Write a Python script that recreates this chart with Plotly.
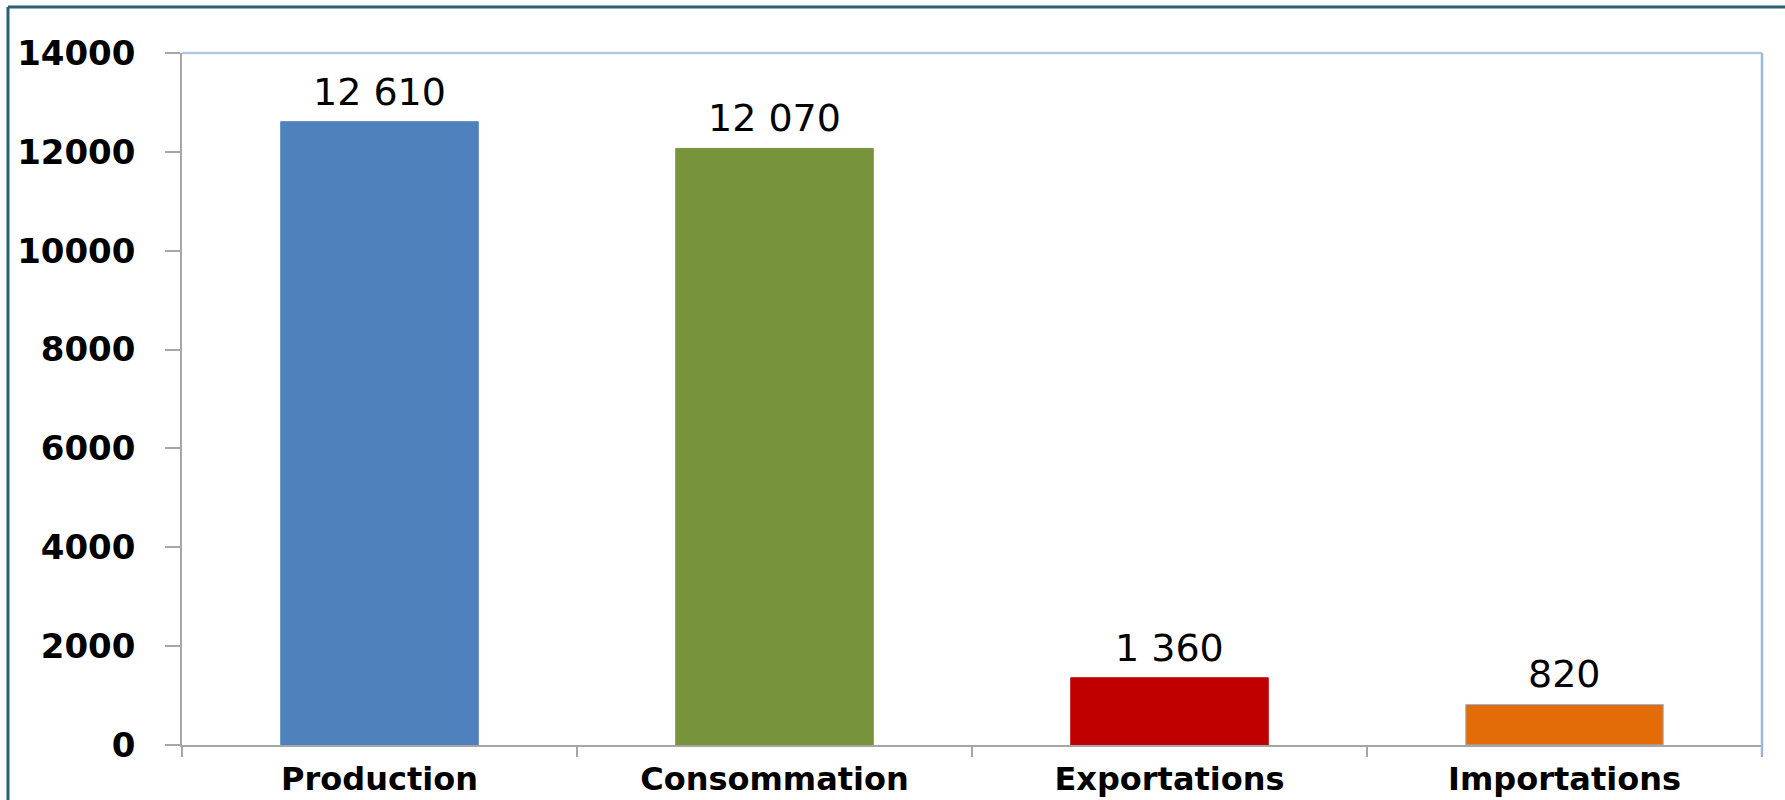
import plotly.graph_objects as go

categories = ["Production", "Consommation", "Exportations", "Importations"]
values = [12610, 12070, 1360, 820]
value_labels = ["12 610", "12 070", "1 360", "820"]
bar_colors = ["#4f81bd", "#77933c", "#c00000", "#e36c09"]
bar_line_colors = ["#4f81bd", "#77933c", "#c00000", "#8eb4e3"]
y_ticks = [0, 2000, 4000, 6000, 8000, 10000, 12000, 14000]
y_tick_labels = ["0", "2000", "4000", "6000", "8000", "10000", "12000", "14000"]

W, H = 1785, 800
ML, MR, MT, MB = 182, 23, 53, 55
pw, ph = W - ML - MR, H - MT - MB


def px_x(p):
    return (p - ML) / pw


def px_y(p):
    return (H - MB - p) / ph


fig = go.Figure()
fig.add_trace(go.Bar(
    x=categories, y=values, width=0.5,
    marker=dict(color=bar_colors, line=dict(color=bar_line_colors, width=1)),
    hoverinfo="x+y",
))

for c, v, t in zip(categories, values, value_labels):
    fig.add_annotation(x=c, y=v, text=t, showarrow=False, yanchor="bottom",
                       yshift=6, font=dict(family="DejaVu Sans", size=38, color="#000000"))

axis_gray = "#a6a6a6"
fig.update_layout(
    width=W, height=H, autosize=False,
    margin=dict(l=ML, r=MR, t=MT, b=MB, pad=0, autoexpand=False),
    paper_bgcolor="white", plot_bgcolor="white",
    showlegend=False, bargap=0.5,
    xaxis=dict(
        automargin=False,
        showgrid=False, zeroline=False, showline=True, linecolor=axis_gray, linewidth=1.5,
        ticks="outside", tickson="boundaries", ticklen=10, tickcolor=axis_gray, tickwidth=1.5,
        tickfont=dict(family="DejaVu Sans", size=32, color="#000000", weight="bold"),
        ticklabelstandoff=5,
    ),
    yaxis=dict(
        automargin=False,
        range=[0, 14000], tickvals=y_ticks, ticktext=y_tick_labels,
        showgrid=False, zeroline=False,
        showline=True, linecolor=axis_gray, linewidth=1.5,
        ticks="outside", ticklen=15, tickcolor=axis_gray, tickwidth=1.5,
        tickfont=dict(family="DejaVu Sans", size=34, color="#000000", weight="bold"),
        ticklabelstandoff=23,
    ),
)

# plot area top and right borders (light blue)
fig.add_shape(type="line", xref="paper", yref="paper", x0=0, x1=1, y0=1, y1=1,
              line=dict(color="#b4c7e0", width=2.5))
fig.add_shape(type="line", xref="paper", yref="paper", x0=1, x1=1, y0=px_y(755), y1=1,
              line=dict(color="#9fb8da", width=2.5))

# outer frame (dark teal) on left and top
fig.add_shape(type="line", xref="paper", yref="paper", x0=px_x(8), x1=px_x(8), y0=px_y(H + 10), y1=px_y(7),
              line=dict(color="#2b6176", width=3))
fig.add_shape(type="line", xref="paper", yref="paper", x0=px_x(8), x1=px_x(W + 5), y0=px_y(7), y1=px_y(7),
              line=dict(color="#2b6176", width=3))

fig.write_html(
    "out.html",
    config={"displayModeBar": False},
    post_script=(
        "var d=document.documentElement,b=document.body;"
        "d.style.margin='0';d.style.padding='0';d.style.overflow='hidden';"
        "b.style.margin='0';b.style.padding='0';b.style.overflow='hidden';"
    ),
)
